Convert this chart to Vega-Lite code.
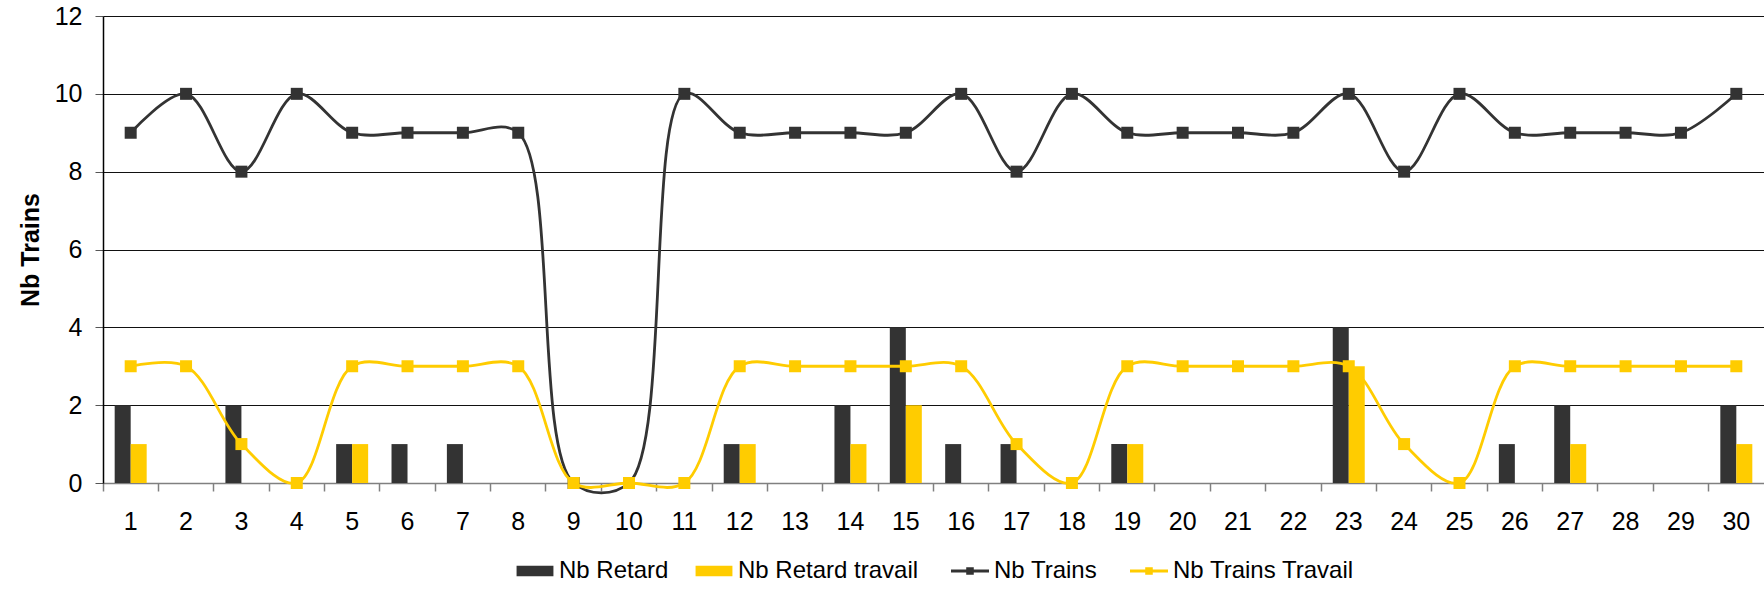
{
  "$schema": "https://vega.github.io/schema/vega-lite/v6.json",
  "autosize": {"type": "none"},
  "padding": {"left": 103, "top": 16, "right": 0, "bottom": 106},
  "width": 1661,
  "height": 467,
  "background": "white",
  "config": {
    "view": {"stroke": null},
    "font": "Liberation Sans",
    "axis": {"labelFont": "Liberation Sans", "titleFont": "Liberation Sans", "labelColor": "#000", "titleColor": "#000"}
  },
  "datasets": {
    "bars": [
      {"day": 1, "series": "Nb Retard", "value": 2}, {"day": 1, "series": "Nb Retard travail", "value": 1},
      {"day": 2, "series": "Nb Retard", "value": 0}, {"day": 2, "series": "Nb Retard travail", "value": 0},
      {"day": 3, "series": "Nb Retard", "value": 2}, {"day": 3, "series": "Nb Retard travail", "value": 0},
      {"day": 4, "series": "Nb Retard", "value": 0}, {"day": 4, "series": "Nb Retard travail", "value": 0},
      {"day": 5, "series": "Nb Retard", "value": 1}, {"day": 5, "series": "Nb Retard travail", "value": 1},
      {"day": 6, "series": "Nb Retard", "value": 1}, {"day": 6, "series": "Nb Retard travail", "value": 0},
      {"day": 7, "series": "Nb Retard", "value": 1}, {"day": 7, "series": "Nb Retard travail", "value": 0},
      {"day": 8, "series": "Nb Retard", "value": 0}, {"day": 8, "series": "Nb Retard travail", "value": 0},
      {"day": 9, "series": "Nb Retard", "value": 0}, {"day": 9, "series": "Nb Retard travail", "value": 0},
      {"day": 10, "series": "Nb Retard", "value": 0}, {"day": 10, "series": "Nb Retard travail", "value": 0},
      {"day": 11, "series": "Nb Retard", "value": 0}, {"day": 11, "series": "Nb Retard travail", "value": 0},
      {"day": 12, "series": "Nb Retard", "value": 1}, {"day": 12, "series": "Nb Retard travail", "value": 1},
      {"day": 13, "series": "Nb Retard", "value": 0}, {"day": 13, "series": "Nb Retard travail", "value": 0},
      {"day": 14, "series": "Nb Retard", "value": 2}, {"day": 14, "series": "Nb Retard travail", "value": 1},
      {"day": 15, "series": "Nb Retard", "value": 4}, {"day": 15, "series": "Nb Retard travail", "value": 2},
      {"day": 16, "series": "Nb Retard", "value": 1}, {"day": 16, "series": "Nb Retard travail", "value": 0},
      {"day": 17, "series": "Nb Retard", "value": 1}, {"day": 17, "series": "Nb Retard travail", "value": 0},
      {"day": 18, "series": "Nb Retard", "value": 0}, {"day": 18, "series": "Nb Retard travail", "value": 0},
      {"day": 19, "series": "Nb Retard", "value": 1}, {"day": 19, "series": "Nb Retard travail", "value": 1},
      {"day": 20, "series": "Nb Retard", "value": 0}, {"day": 20, "series": "Nb Retard travail", "value": 0},
      {"day": 21, "series": "Nb Retard", "value": 0}, {"day": 21, "series": "Nb Retard travail", "value": 0},
      {"day": 22, "series": "Nb Retard", "value": 0}, {"day": 22, "series": "Nb Retard travail", "value": 0},
      {"day": 23, "series": "Nb Retard", "value": 4}, {"day": 23, "series": "Nb Retard travail", "value": 3},
      {"day": 24, "series": "Nb Retard", "value": 0}, {"day": 24, "series": "Nb Retard travail", "value": 0},
      {"day": 25, "series": "Nb Retard", "value": 0}, {"day": 25, "series": "Nb Retard travail", "value": 0},
      {"day": 26, "series": "Nb Retard", "value": 1}, {"day": 26, "series": "Nb Retard travail", "value": 0},
      {"day": 27, "series": "Nb Retard", "value": 2}, {"day": 27, "series": "Nb Retard travail", "value": 1},
      {"day": 28, "series": "Nb Retard", "value": 0}, {"day": 28, "series": "Nb Retard travail", "value": 0},
      {"day": 29, "series": "Nb Retard", "value": 0}, {"day": 29, "series": "Nb Retard travail", "value": 0},
      {"day": 30, "series": "Nb Retard", "value": 2}, {"day": 30, "series": "Nb Retard travail", "value": 1}
    ],
    "trains": [
      {"day": 1, "series": "Nb Trains", "value": 9}, {"day": 2, "series": "Nb Trains", "value": 10},
      {"day": 3, "series": "Nb Trains", "value": 8}, {"day": 4, "series": "Nb Trains", "value": 10},
      {"day": 5, "series": "Nb Trains", "value": 9}, {"day": 6, "series": "Nb Trains", "value": 9},
      {"day": 7, "series": "Nb Trains", "value": 9}, {"day": 8, "series": "Nb Trains", "value": 9},
      {"day": 9, "series": "Nb Trains", "value": 0}, {"day": 10, "series": "Nb Trains", "value": 0},
      {"day": 11, "series": "Nb Trains", "value": 10}, {"day": 12, "series": "Nb Trains", "value": 9},
      {"day": 13, "series": "Nb Trains", "value": 9}, {"day": 14, "series": "Nb Trains", "value": 9},
      {"day": 15, "series": "Nb Trains", "value": 9}, {"day": 16, "series": "Nb Trains", "value": 10},
      {"day": 17, "series": "Nb Trains", "value": 8}, {"day": 18, "series": "Nb Trains", "value": 10},
      {"day": 19, "series": "Nb Trains", "value": 9}, {"day": 20, "series": "Nb Trains", "value": 9},
      {"day": 21, "series": "Nb Trains", "value": 9}, {"day": 22, "series": "Nb Trains", "value": 9},
      {"day": 23, "series": "Nb Trains", "value": 10}, {"day": 24, "series": "Nb Trains", "value": 8},
      {"day": 25, "series": "Nb Trains", "value": 10}, {"day": 26, "series": "Nb Trains", "value": 9},
      {"day": 27, "series": "Nb Trains", "value": 9}, {"day": 28, "series": "Nb Trains", "value": 9},
      {"day": 29, "series": "Nb Trains", "value": 9}, {"day": 30, "series": "Nb Trains", "value": 10}
    ],
    "travail": [
      {"day": 1, "series": "Nb Trains Travail", "value": 3}, {"day": 2, "series": "Nb Trains Travail", "value": 3},
      {"day": 3, "series": "Nb Trains Travail", "value": 1}, {"day": 4, "series": "Nb Trains Travail", "value": 0},
      {"day": 5, "series": "Nb Trains Travail", "value": 3}, {"day": 6, "series": "Nb Trains Travail", "value": 3},
      {"day": 7, "series": "Nb Trains Travail", "value": 3}, {"day": 8, "series": "Nb Trains Travail", "value": 3},
      {"day": 9, "series": "Nb Trains Travail", "value": 0}, {"day": 10, "series": "Nb Trains Travail", "value": 0},
      {"day": 11, "series": "Nb Trains Travail", "value": 0}, {"day": 12, "series": "Nb Trains Travail", "value": 3},
      {"day": 13, "series": "Nb Trains Travail", "value": 3}, {"day": 14, "series": "Nb Trains Travail", "value": 3},
      {"day": 15, "series": "Nb Trains Travail", "value": 3}, {"day": 16, "series": "Nb Trains Travail", "value": 3},
      {"day": 17, "series": "Nb Trains Travail", "value": 1}, {"day": 18, "series": "Nb Trains Travail", "value": 0},
      {"day": 19, "series": "Nb Trains Travail", "value": 3}, {"day": 20, "series": "Nb Trains Travail", "value": 3},
      {"day": 21, "series": "Nb Trains Travail", "value": 3}, {"day": 22, "series": "Nb Trains Travail", "value": 3},
      {"day": 23, "series": "Nb Trains Travail", "value": 3}, {"day": 24, "series": "Nb Trains Travail", "value": 1},
      {"day": 25, "series": "Nb Trains Travail", "value": 0}, {"day": 26, "series": "Nb Trains Travail", "value": 3},
      {"day": 27, "series": "Nb Trains Travail", "value": 3}, {"day": 28, "series": "Nb Trains Travail", "value": 3},
      {"day": 29, "series": "Nb Trains Travail", "value": 3}, {"day": 30, "series": "Nb Trains Travail", "value": 3}
    ]
  },
  "encoding": {
    "x": {
      "field": "day", "type": "ordinal", "title": null,
      "scale": {"paddingInner": 0, "paddingOuter": 0},
      "axis": {
        "labelAngle": 0, "labelFontSize": 25, "labelPadding": 18, "tickSize": 8, "bandPosition": 0,
        "tickColor": "#808080", "domainColor": "#808080", "domainWidth": 1.5, "tickWidth": 1.5, "grid": false
      }
    },
    "y": {
      "field": "value", "type": "quantitative", "title": "Nb Trains",
      "scale": {"domain": [0, 12], "nice": false},
      "axis": {
        "values": [0, 2, 4, 6, 8, 10, 12], "labelFontSize": 25, "labelPadding": 13, "tickSize": 8,
        "tickColor": "#555", "domainColor": "#000", "domainWidth": 1.5,
        "grid": true, "gridColor": "#111", "gridWidth": 1.2,
        "titleFontSize": 25, "titleFontWeight": "bold", "titlePadding": 11
      }
    },
    "color": {
      "field": "series", "type": "nominal",
      "scale": {
        "domain": ["Nb Retard", "Nb Retard travail", "Nb Trains", "Nb Trains Travail"],
        "range": ["#333333", "#FFCC00", "#333333", "#FFCC00"]
      },
      "legend": {
        "title": null, "orient": "none", "direction": "horizontal", "legendX": 420, "legendY": 543,
        "labelFont": "Liberation Sans", "labelFontSize": 24, "labelColor": "#000", "labelLimit": 0,
        "symbolSize": 1444, "labelOffset": 12, "columnPadding": 26,
        "encode": {
          "symbols": {
            "update": {
              "shape": {"signal": "indexof(['Nb Trains','Nb Trains Travail'], datum.value) >= 0 ? 'M-1,0H1M-0.12,-0.12H0.12V0.12H-0.12Z' : 'M-0.97,-0.27H0.97V0.27H-0.97Z'"},
              "size": {"value": 1444},
              "fill": {"scale": "color", "field": "value"},
              "stroke": {"scale": "color", "field": "value"},
              "strokeWidth": {"signal": "indexof(['Nb Trains','Nb Trains Travail'], datum.value) >= 0 ? 3 : 0"},
              "opacity": {"value": 1}
            }
          }
        }
      }
    }
  },
  "layer": [
    {
      "data": {"name": "bars"},
      "mark": {"type": "bar"},
      "encoding": {
        "xOffset": {"field": "series", "type": "nominal", "scale": {"paddingInner": 0, "paddingOuter": 0.73}}
      }
    },
    {
      "data": {"name": "trains"},
      "mark": {"type": "line", "interpolate": "catmull-rom", "strokeWidth": 2.8, "point": {"shape": "square", "size": 144, "filled": true, "opacity": 1}}
    },
    {
      "data": {"name": "travail"},
      "mark": {"type": "line", "interpolate": "catmull-rom", "strokeWidth": 2.8, "point": {"shape": "square", "size": 144, "filled": true, "opacity": 1}}
    }
  ]
}
